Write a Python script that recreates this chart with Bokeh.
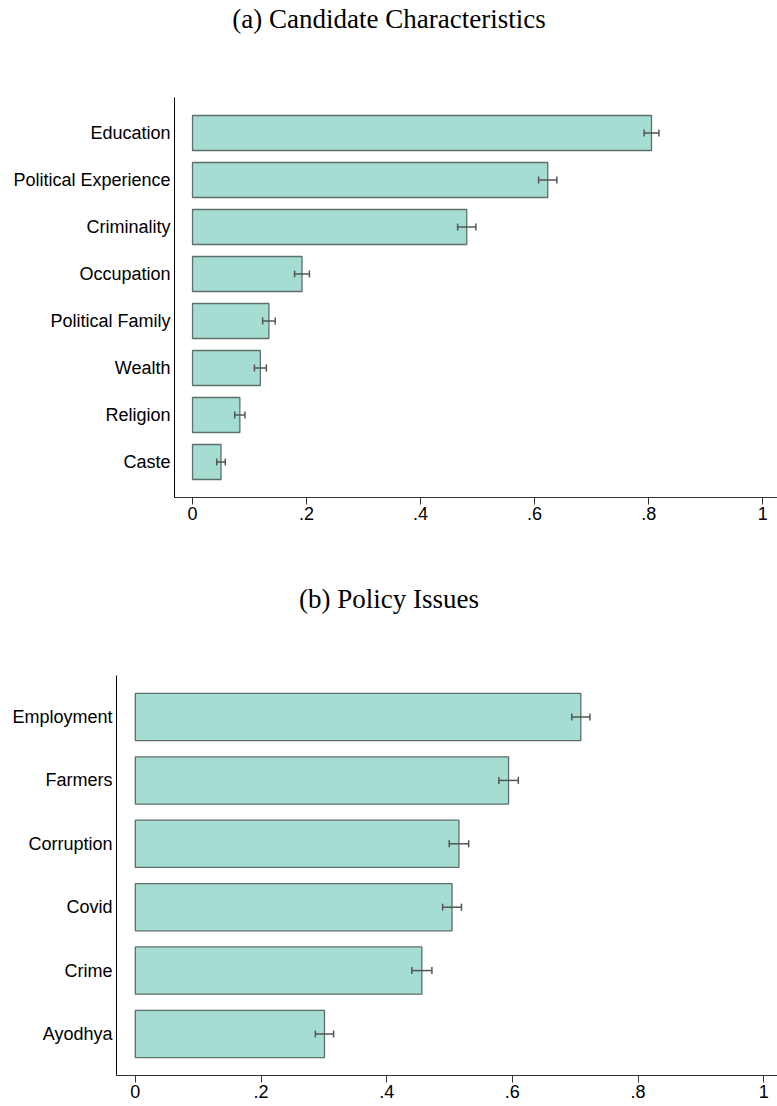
from bokeh.plotting import figure
from bokeh.models import ColumnDataSource, FixedTicker, Whisker, TeeHead
from bokeh.layouts import column
from bokeh.core.properties import value
from bokeh.embed import file_html
from bokeh.resources import INLINE

# Panel (a): candidate characteristics
categories_a = ["Education", "Political Experience", "Criminality", "Occupation",
                "Political Family", "Wealth", "Religion", "Caste"]
means_a = [0.805, 0.623, 0.481, 0.192, 0.134, 0.119, 0.083, 0.050]
ci_a = [0.013, 0.016, 0.016, 0.013, 0.011, 0.0105, 0.009, 0.0075]

# Panel (b): policy issues
categories_b = ["Employment", "Farmers", "Corruption", "Covid", "Crime", "Ayodhya"]
means_b = [0.709, 0.594, 0.515, 0.504, 0.456, 0.301]
ci_b = [0.0145, 0.0155, 0.0155, 0.015, 0.016, 0.0145]

x_ticks = [0, 0.2, 0.4, 0.6, 0.8, 1]
x_tick_labels = ["0", ".2", ".4", ".6", ".8", "1"]

BAR_FILL = "#a6ddd2"
BAR_LINE = "#5e6e6a"
ERR_COLOR = "#555555"
SANS = "Liberation Sans"
SERIF = "Liberation Serif"
W = 777


def title_fig(text, height, y_center_from_top):
    t = figure(width=W, height=height, x_range=(0, 1), y_range=(0, height),
               output_backend="svg", toolbar_location=None, frame_align=False,
               min_border=0, min_border_left=0, min_border_right=0,
               min_border_top=0, min_border_bottom=0)
    t.axis.visible = False
    t.grid.visible = False
    t.outline_line_color = None
    t.text(x=[0.5], y=[height - y_center_from_top], text=[text],
           text_font=value(SERIF), text_font_size="27px", text_color="black",
           text_align="center", text_baseline="middle")
    return t


def bar_panel(cats, means, cis, height, border_left, border_top, border_bottom,
              x_start, x_end, y_pad):
    n = len(cats)
    pos = list(range(n))[::-1]
    src = ColumnDataSource(dict(
        y=pos, m=means,
        lo=[m - c for m, c in zip(means, cis)],
        hi=[m + c for m, c in zip(means, cis)],
    ))
    p = figure(width=W, height=height,
               x_range=(x_start, x_end), y_range=(-y_pad, n - 1 + y_pad),
               output_backend="svg", toolbar_location=None, frame_align=False,
               min_border_left=border_left, min_border_right=0,
               min_border_top=border_top, min_border_bottom=border_bottom)
    p.outline_line_color = None
    p.grid.visible = False
    p.background_fill_color = "white"

    p.hbar(y="y", left=0, right="m", height=0.745, source=src,
           fill_color=BAR_FILL, line_color=BAR_LINE, line_width=1.3)

    err = Whisker(base="y", lower="lo", upper="hi", dimension="width", source=src,
                  level="overlay", line_color=ERR_COLOR, line_width=1.5,
                  lower_head=TeeHead(size=7, line_color=ERR_COLOR, line_width=1.5),
                  upper_head=TeeHead(size=7, line_color=ERR_COLOR, line_width=1.5))
    p.add_layout(err)

    xa = p.xaxis[0]
    xa.ticker = FixedTicker(ticks=x_ticks)
    xa.major_label_overrides = {t: l for t, l in zip(x_ticks, x_tick_labels)}
    xa.axis_line_color = "#333333"
    xa.major_tick_line_color = "#333333"
    xa.major_tick_out = 7
    xa.major_tick_in = 0
    xa.minor_tick_line_color = None
    xa.major_label_standoff = 2
    xa.major_label_text_font = SANS
    xa.major_label_text_font_size = "18px"
    xa.major_label_text_color = "black"

    ya = p.yaxis[0]
    ya.ticker = FixedTicker(ticks=pos)
    ya.major_label_overrides = {pp: c for pp, c in zip(pos, cats)}
    ya.axis_line_color = "black"
    ya.major_tick_line_color = None
    ya.major_tick_out = 0
    ya.major_tick_in = 0
    ya.minor_tick_line_color = None
    ya.major_label_standoff = 4
    ya.major_label_text_font = SANS
    ya.major_label_text_font_size = "18px"
    ya.major_label_text_color = "black"
    return p


title_a = title_fig("(a) Candidate Characteristics", 40, 18)
panel_a = bar_panel(categories_a, means_a, ci_a, height=520, border_left=174,
                    border_top=57, border_bottom=63,
                    x_start=-0.0316, x_end=1.026, y_pad=0.755)
title_b = title_fig("(b) Policy Issues", 80, 38)
panel_b = bar_panel(categories_b, means_b, ci_b, height=466, border_left=116,
                    border_top=35, border_bottom=31,
                    x_start=-0.030, x_end=1.022, y_pad=0.655)

layout = column(title_a, panel_a, title_b, panel_b, spacing=0)

with open("out.html", "w") as f:
    f.write(file_html(layout, INLINE))
